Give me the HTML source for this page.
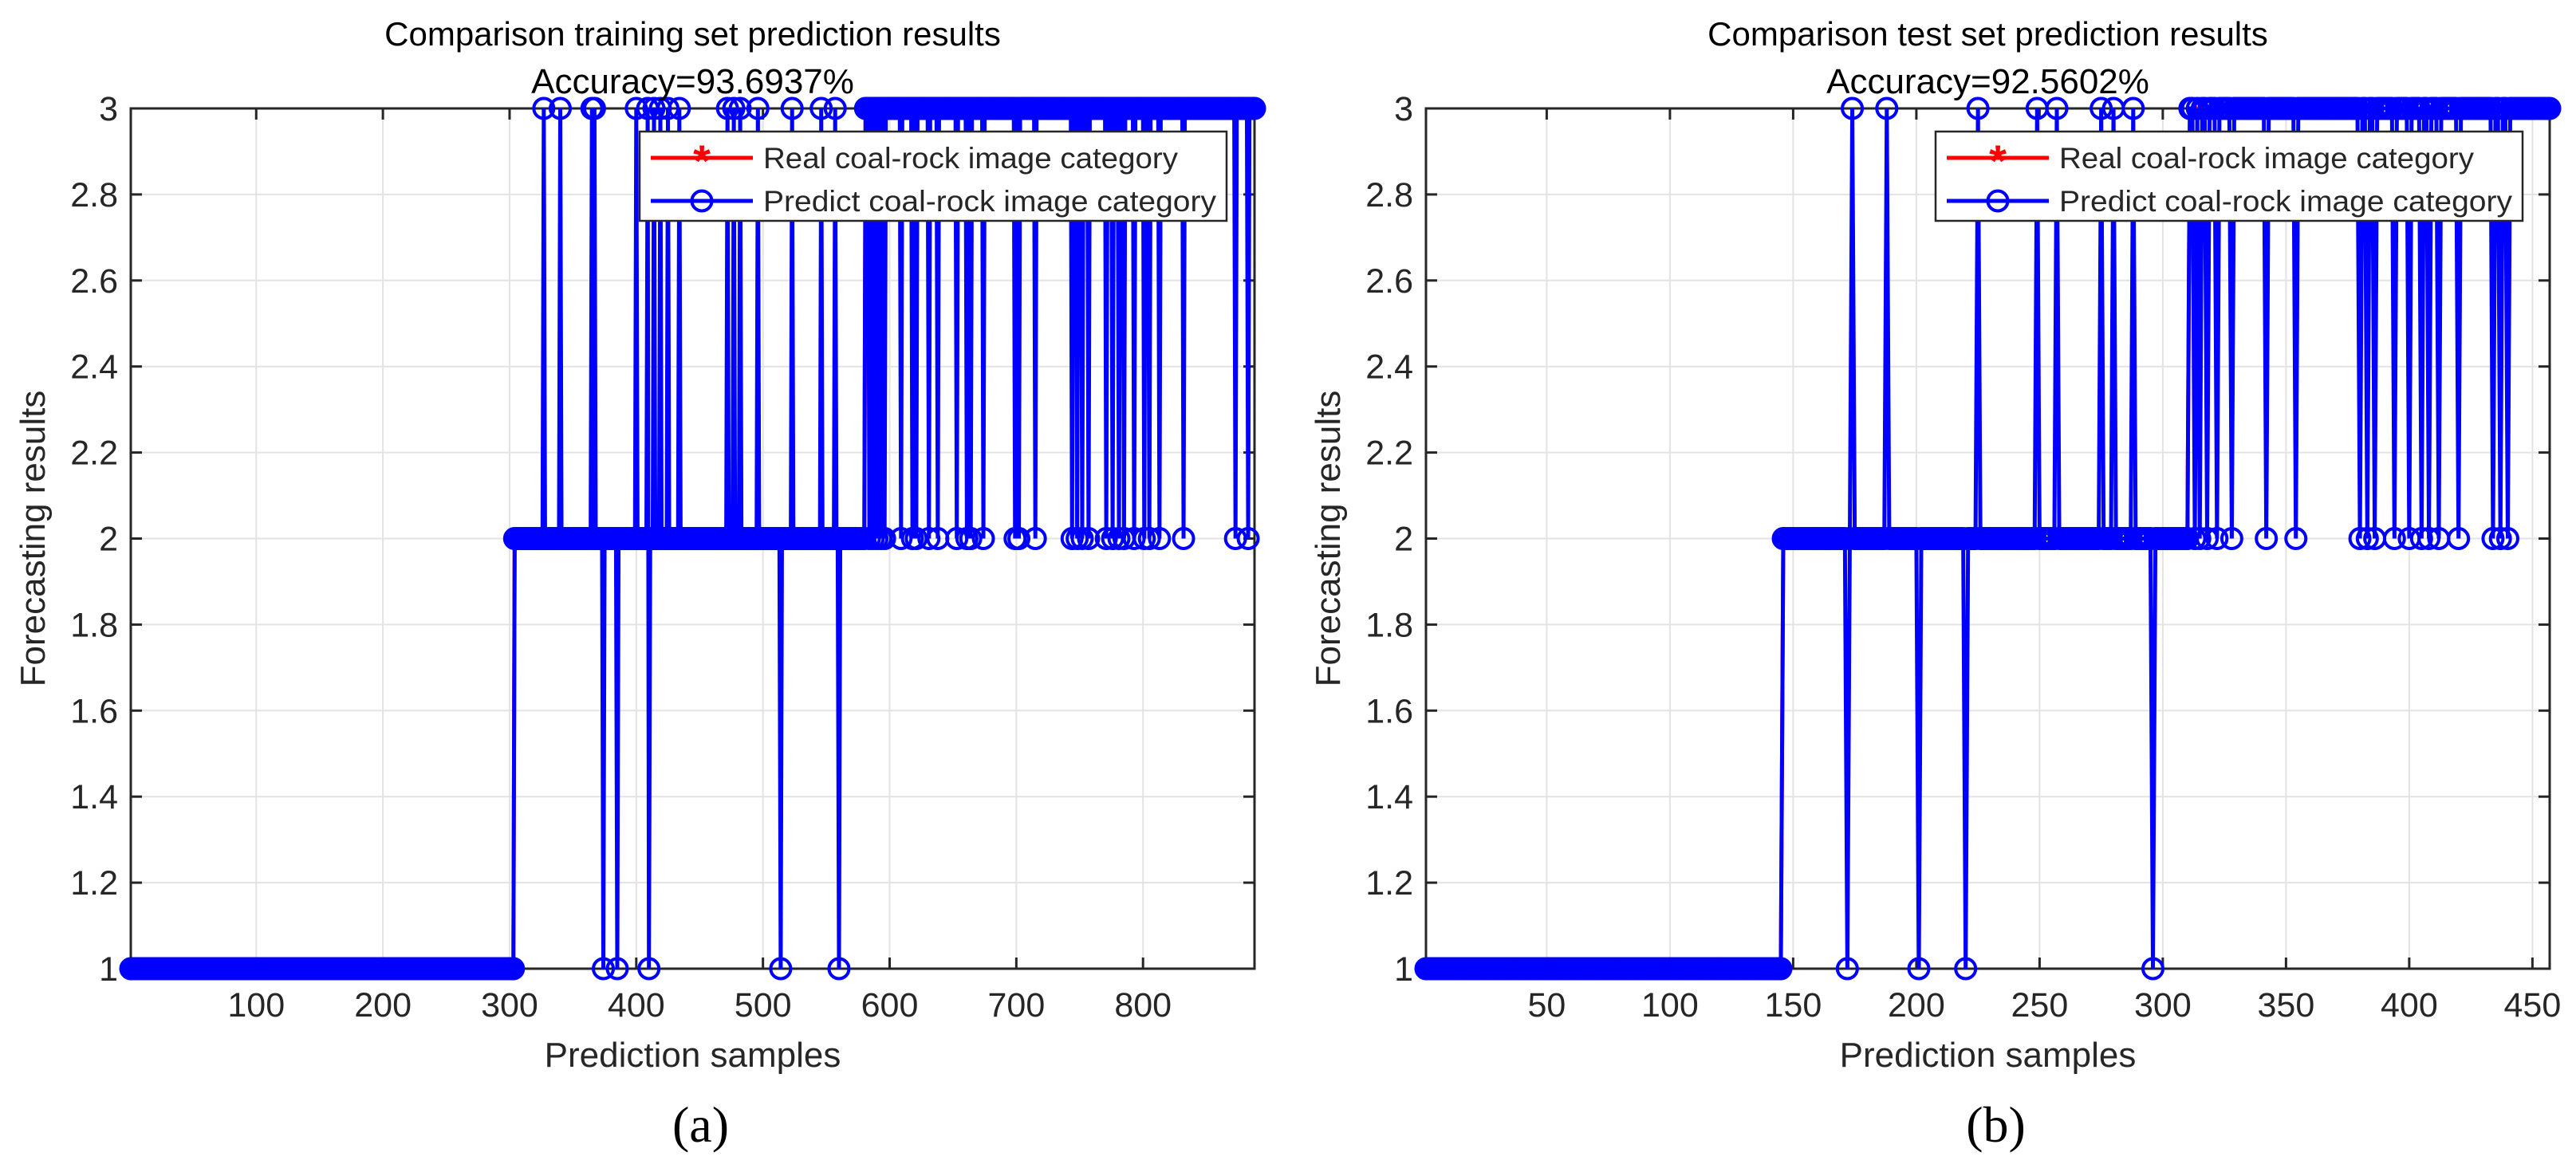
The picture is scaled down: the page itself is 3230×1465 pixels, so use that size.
<!DOCTYPE html>
<html><head><meta charset="utf-8"><style>
html,body{margin:0;padding:0;background:#fff;}
svg{display:block;}
text{font-family:"Liberation Sans",sans-serif;}
</style></head><body>
<svg id="chart" width="3230" height="1465" viewBox="0 0 3230 1465" xmlns="http://www.w3.org/2000/svg"></svg>
<script>
// ---- Panel (a): training set ----
const trainClassCounts = [303, 277, 308];             // samples per real class 1,2,3
const trainErrIdx = [327,340,365,367,400,409,414,419,425,434,472,477,482,496,523,546,557,
                     374,385,410,514,560,
                     584,587,590,593,596,609,618,621,631,638,653,661,664,674,699,702,715,744,748,752,757,771,776,781,785,793,801,805,813,832,873,883];
const trainErrVal = [3,3,3,3,3,3,3,3,3,3,3,3,3,3,3,3,3,
                     1,1,1,1,1,
                     2,2,2,2,2,2,2,2,2,2,2,2,2,2,2,2,2,2,2,2,2,2,2,2,2,2,2,2,2,2,2,2];
const trainXTicks = [100,200,300,400,500,600,700,800];
// ---- Panel (b): test set ----
const testClassCounts = [145, 165, 147];
const testErrIdx = [174,188,225,249,257,275,280,288,
                    172,201,220,296,
                    313,315,318,322,328,342,354,380,383,386,394,400,405,408,412,420,434,437,440];
const testErrVal = [3,3,3,3,3,3,3,3,
                    1,1,1,1,
                    2,2,2,2,2,2,2,2,2,2,2,2,2,2,2,2,2,2,2];
const testXTicks = [50,100,150,200,250,300,350,400,450];
const yTicks = [1,1.2,1.4,1.6,1.8,2,2.2,2.4,2.6,2.8,3];
const yTickLabels = ["1","1.2","1.4","1.6","1.8","2","2.2","2.4","2.6","2.8","3"];

const NS="http://www.w3.org/2000/svg";
const svg=document.getElementById('chart');
function mk(tag,attrs,parent){const e=document.createElementNS(NS,tag);for(const k in attrs)e.setAttribute(k,attrs[k]);(parent||svg).appendChild(e);return e;}

function buildSeries(counts, errIdx, errVal){
  const real=[];counts.forEach((c,i)=>{for(let k=0;k<c;k++)real.push(i+1);});
  const pred=real.slice();errIdx.forEach((ix,j)=>{if(ix-1<pred.length)pred[ix-1]=errVal[j];});
  return {real,pred};
}

function panel(cfg){
  const g=mk('g',{});
  
  
  const {L,R,T,B}=cfg;
  const xmax=cfg.xmax;
  const X=v=>L+(v-1)/(xmax-1)*(R-L);
  const Y=v=>B-(v-1)/2*(B-T);
  cfg.xticks.forEach(t=>{const l=mk('line',{x1:X(t),x2:X(t),y1:T,y2:B,stroke:'#e3e3e3','stroke-width':2},g);
    });
  yTicks.forEach(t=>{const l=mk('line',{x1:L,x2:R,y1:Y(t),y2:Y(t),stroke:'#e3e3e3','stroke-width':2},g);
    });
  const box=mk('rect',{x:L,y:T,width:R-L,height:B-T,fill:'none',stroke:'#262626','stroke-width':3},g);
  
  cfg.xticks.forEach(t=>{mk('line',{x1:X(t),x2:X(t),y1:B,y2:B-14,stroke:'#262626','stroke-width':3},g);mk('line',{x1:X(t),x2:X(t),y1:T,y2:T+14,stroke:'#262626','stroke-width':3},g);
    const tx=mk('text',{x:X(t),y:1275,'font-size':43,'text-anchor':'middle',style:'fill:#262626'},g);tx.textContent=t;
    });
  yTicks.forEach((t,i)=>{mk('line',{x1:L,x2:L+14,y1:Y(t),y2:Y(t),stroke:'#262626','stroke-width':3},g);mk('line',{x1:R,x2:R-14,y1:Y(t),y2:Y(t),stroke:'#262626','stroke-width':3},g);
    const tx=mk('text',{x:L-16,y:Y(t)+15,'font-size':43,'text-anchor':'end',style:'fill:#262626'},g);tx.textContent=yTickLabels[i];
    });
  const s=buildSeries(cfg.counts,cfg.errIdx,cfg.errVal);
  const rp=s.real.map((v,i)=>X(i+1)+','+Y(v)).join(' ');
  const rl=mk('polyline',{points:rp,fill:'none',stroke:'#ff0000','stroke-width':5},g);
  
  const pp=s.pred.map((v,i)=>X(i+1)+','+Y(v)).join(' ');
  const pl=mk('polyline',{points:pp,fill:'none',stroke:'#0000ff','stroke-width':5},g);
  
  const mg=mk('g',{fill:'none',stroke:'#0000ff','stroke-width':4},g);
  
  s.pred.forEach((v,i)=>{const c=mk('circle',{cx:X(i+1),cy:Y(v),r:12.5},mg);
    
    });
  const t1=mk('text',{x:(L+R)/2,y:57,'font-size':42,'text-anchor':'middle',style:'fill:#000'},g);t1.textContent=cfg.title;
  
  const t2=mk('text',{x:(L+R)/2,y:117,'font-size':44,'text-anchor':'middle',style:'fill:#000'},g);t2.textContent=cfg.acc;
  
  const xl=mk('text',{x:(L+R)/2,y:1338,'font-size':44,'text-anchor':'middle',style:'fill:#262626'},g);xl.textContent='Prediction samples';
  
  const yl=mk('text',{x:0,y:0,'font-size':44,'text-anchor':'middle',style:'fill:#262626',transform:`translate(${L-108},${(T+B)/2}) rotate(-90)`},g);yl.textContent='Forecasting results';
  
  const lg=mk('g',{},g);
  
  const lx=cfg.legX, ly=165;
  mk('rect',{x:lx,y:ly,width:736,height:112,fill:'#fff',stroke:'#262626','stroke-width':2.5},lg);
  mk('line',{x1:lx+14,x2:lx+142,y1:ly+33,y2:ly+33,stroke:'#ff0000','stroke-width':5},lg);
  const st=mk('text',{x:lx+78,y:ly+56,'font-size':56,'text-anchor':'middle',style:'fill:#ff0000;font-weight:bold'},lg);st.textContent='*';
  const e1=mk('text',{x:lx+155,y:ly+46,'font-size':37,textLength:520,lengthAdjust:'spacingAndGlyphs',style:'fill:#262626'},lg);e1.textContent='Real coal-rock image category';
  
  mk('line',{x1:lx+14,x2:lx+142,y1:ly+87,y2:ly+87,stroke:'#0000ff','stroke-width':5},lg);
  mk('circle',{cx:lx+78,cy:ly+87,r:12.5,fill:'none',stroke:'#0000ff','stroke-width':4},lg);
  const e2=mk('text',{x:lx+155,y:ly+100,'font-size':37,textLength:568,lengthAdjust:'spacingAndGlyphs',style:'fill:#262626'},lg);e2.textContent='Predict coal-rock image category';
  
  const cap=mk('text',{x:(L+R)/2+10,y:1432,'font-size':64,'text-anchor':'middle',style:'fill:#000;font-family:"Liberation Serif",serif'},g);cap.textContent=cfg.caption;
  
}

panel({name:'training-panel',L:164,R:1573,T:136,B:1215,xmax:888,counts:trainClassCounts,errIdx:trainErrIdx,errVal:trainErrVal,xticks:trainXTicks,
  title:'Comparison training set prediction results',acc:'Accuracy=93.6937%',legX:802,caption:'(a)'});
panel({name:'test-panel',L:1788,R:3197,T:136,B:1215,xmax:457,counts:testClassCounts,errIdx:testErrIdx,errVal:testErrVal,xticks:testXTicks,
  title:'Comparison test set prediction results',acc:'Accuracy=92.5602%',legX:2427,caption:'(b)'});
</script>
</body></html>
